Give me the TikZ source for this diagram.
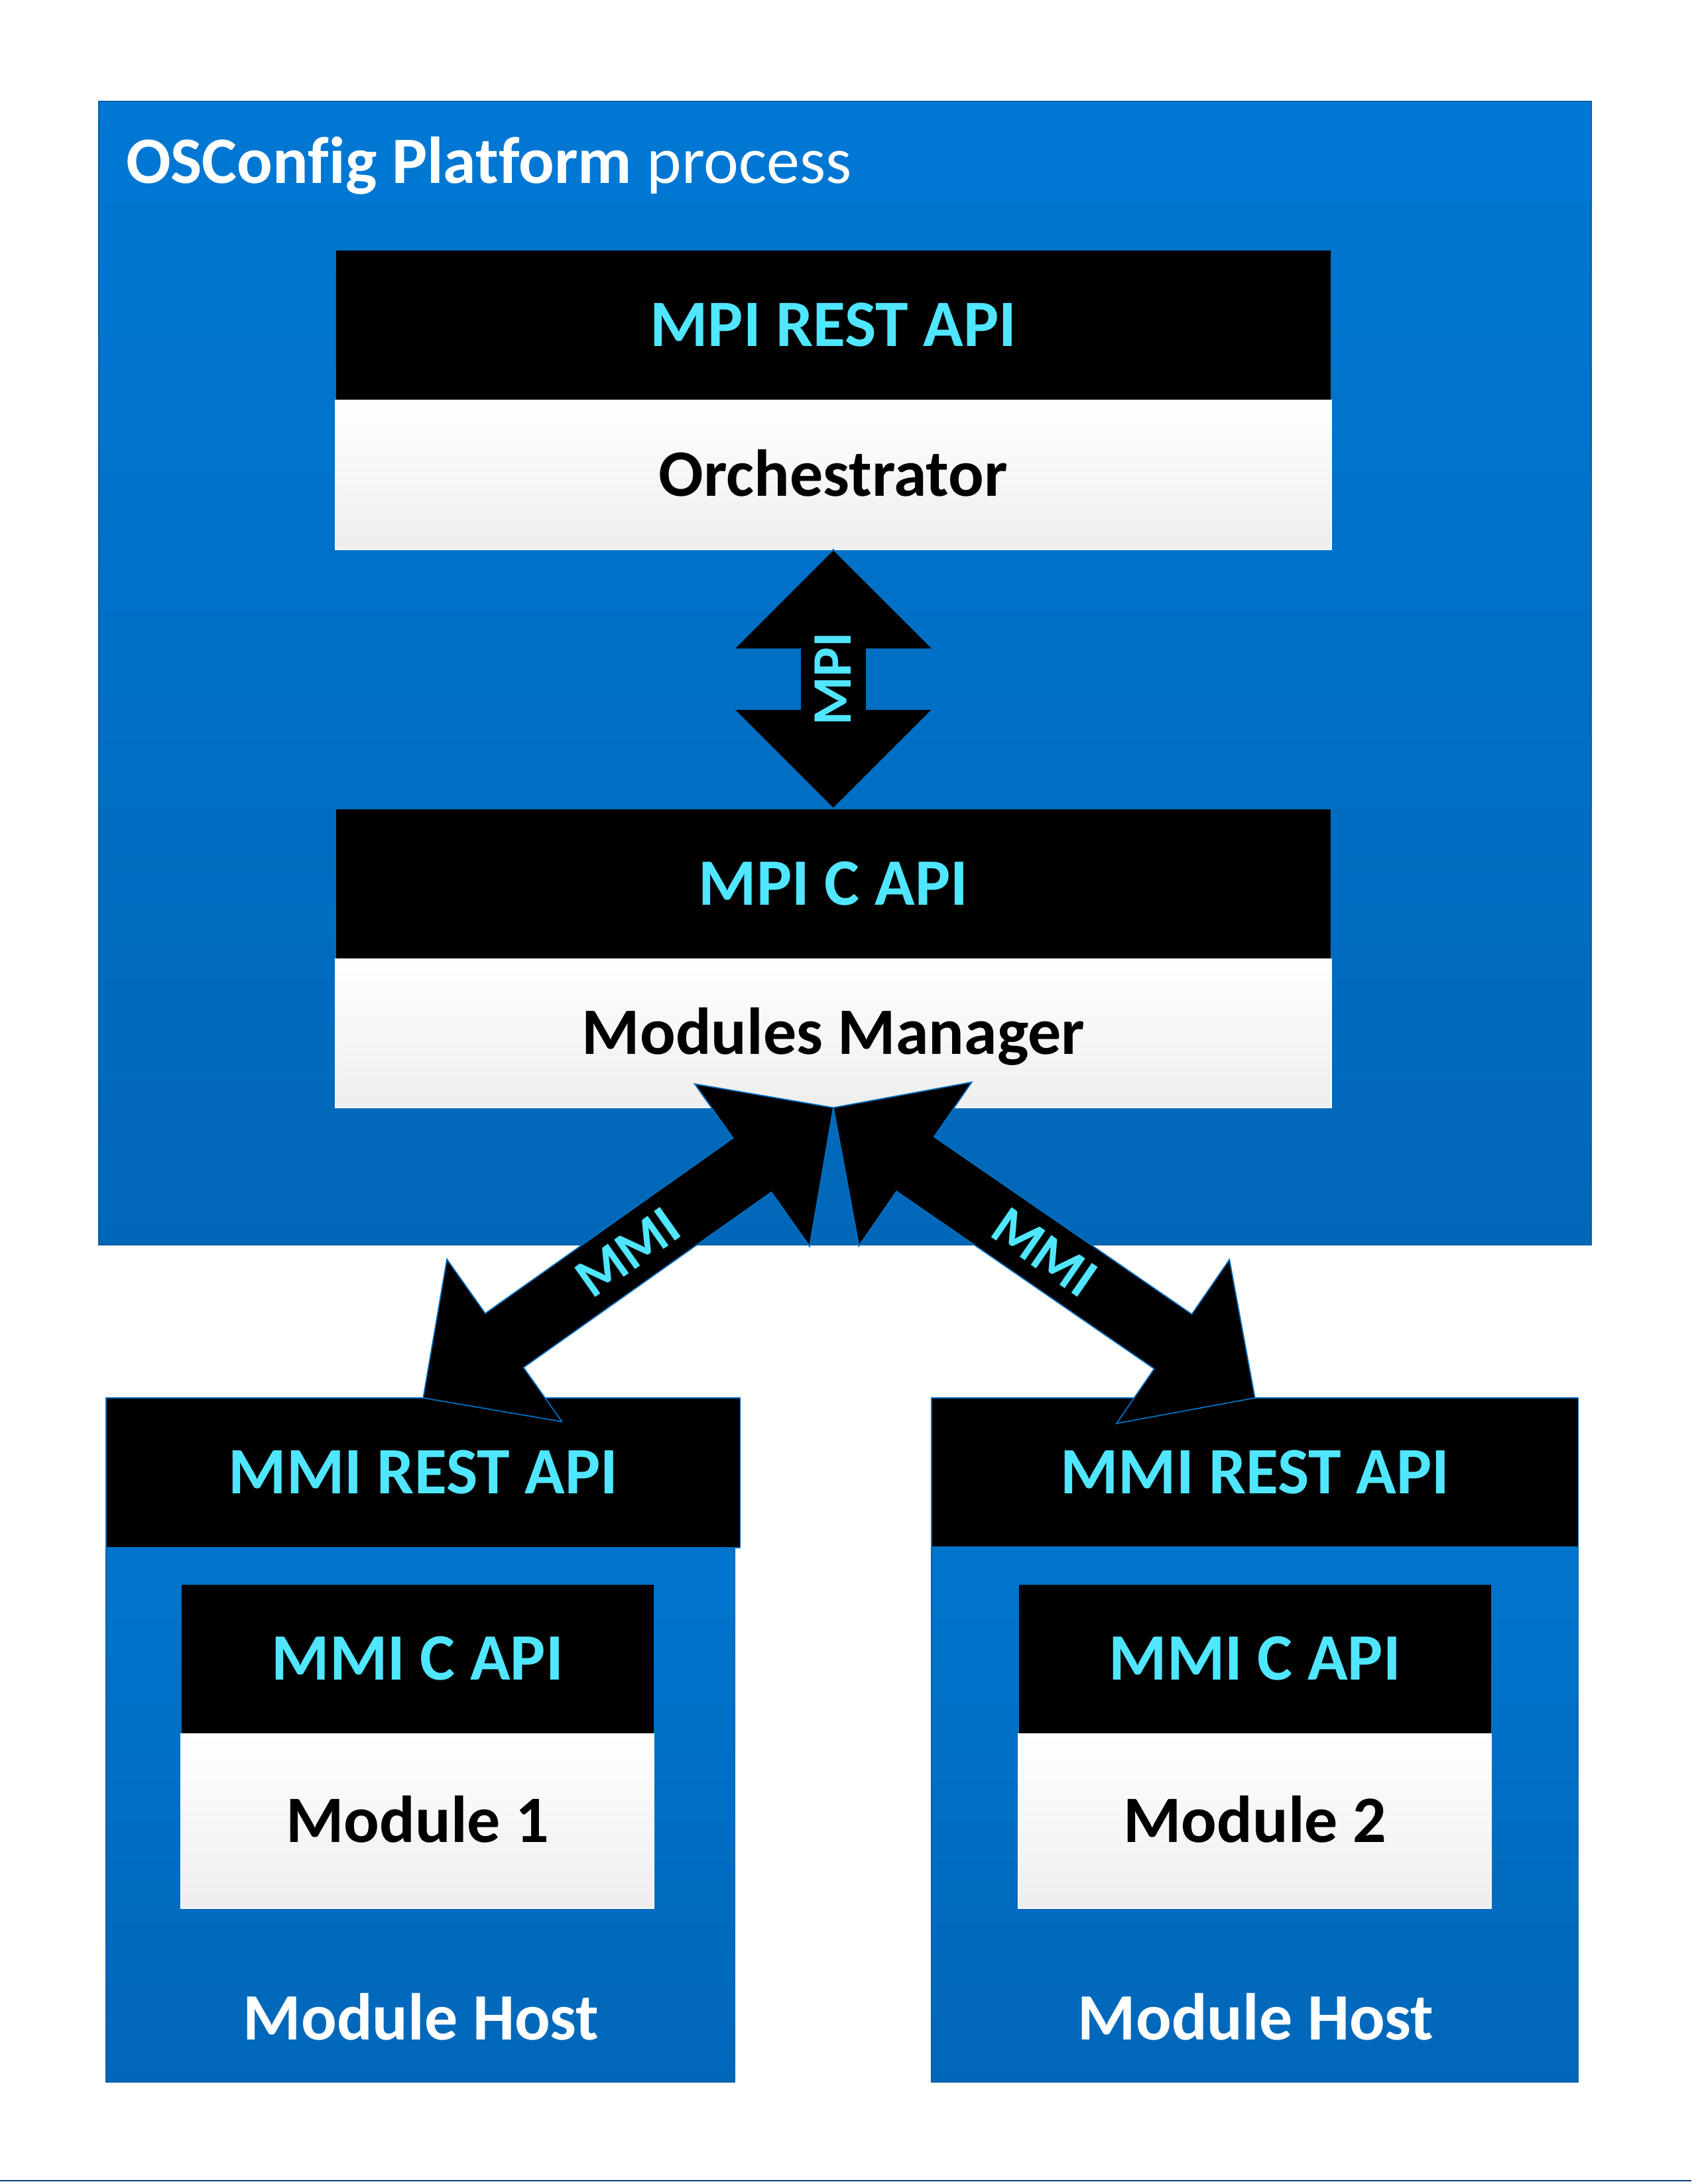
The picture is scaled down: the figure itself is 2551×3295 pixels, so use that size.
\documentclass[tikz,border=0pt]{standalone}
\usepackage{fontspec}
\setmainfont{Carlito}[Ligatures={NoCommon}]
\usetikzlibrary{calc}
\definecolor{blueT}{RGB}{0,120,212}
\definecolor{blueB}{RGB}{0,103,184}
\definecolor{edgeB}{RGB}{0,112,192}
\definecolor{edgeD}{RGB}{0,92,165}
\definecolor{cyanT}{RGB}{80,230,255}
\definecolor{lightB}{RGB}{238,238,238}
\definecolor{navyL}{RGB}{16,60,120}
\newcommand\bigfont{\fontsize{28.45}{34}\selectfont}
\newcommand\lblfont{\fontsize{23.9}{28}\selectfont}
\newcommand{\dblarrow}[2]{%
  \filldraw[blockarrow] (#1)
    -- ($(#1)!2.1213cm!45:(#2)$) -- ($(#1)!1.5811cm!18.435:(#2)$)
    -- ($(#2)!1.5811cm!-18.435:(#1)$) -- ($(#2)!2.1213cm!-45:(#1)$)
    -- (#2)
    -- ($(#2)!2.1213cm!45:(#1)$) -- ($(#2)!1.5811cm!18.435:(#1)$)
    -- ($(#1)!1.5811cm!-18.435:(#2)$) -- ($(#1)!2.1213cm!-45:(#2)$)
    -- cycle;}
\tikzset{
  every node/.style={inner sep=0pt, outer sep=0pt},
  bluebox/.style={top color=blueT, bottom color=blueB, draw=edgeD, line width=0.5pt, anchor=north west},
  hdr/.style={fill=black, draw=edgeB, line width=0.45pt, text=cyanT, font=\bigfont\bfseries,
    anchor=north west, text height=0.632cm, text depth=0pt},
  lightbox/.style={top color=white, bottom color=lightB, draw=white, line width=0.4pt, text=black,
    font=\bigfont\bfseries, anchor=north west, text height=0.632cm, text depth=0pt},
  hostlbl/.style={text=white, font=\bigfont\bfseries, anchor=base},
  blockarrow/.style={fill=black, draw=edgeB, line width=0.5pt, line join=miter},
  arrowlbl/.style={text=cyanT, font=\lblfont\bfseries, text height=0.53cm, text depth=0pt}
}
\begin{document}
\begin{tikzpicture}[x=0.01cm, y=-0.01cm]
\useasboundingbox (0,0) rectangle (2551,3295);
\fill[white] (0,0) rectangle (2551,3295);

% platform process
\node[bluebox, minimum width=22.50cm, minimum height=17.24cm] (outer) at (149,153) {};
\node[text=white, font=\bigfont, anchor=base west] (title) at (190,277) {\textbf{OSConfig Platform} process};

\node[hdr, minimum width=15.01cm, minimum height=2.27cm] (mpirest) at (506,377) {MPI REST API};
\node[lightbox, minimum width=15.01cm, minimum height=2.25cm] (orch) at (506,604) {Orchestrator};
\node[hdr, minimum width=15.01cm, minimum height=2.27cm] (mpic) at (506,1220) {MPI C API};
\node[lightbox, minimum width=15.01cm, minimum height=2.24cm] (mm) at (506,1447) {Modules Manager};

% module hosts
\node[bluebox, minimum width=9.48cm, minimum height=10.30cm] (hostL) at (160,2110) {};
\node[hdr, minimum width=9.56cm, minimum height=2.26cm] (restL) at (160,2109) {MMI REST API};
\node[hdr, minimum width=7.13cm, minimum height=2.26cm] (mmicL) at (273,2390) {MMI C API};
\node[lightbox, minimum width=7.13cm, minimum height=2.63cm] (mod1) at (273,2616) {Module 1};
\node[hostlbl] (hostLlbl) at (635,3077) {Module Host};

\node[bluebox, minimum width=9.75cm, minimum height=10.30cm] (hostR) at (1405,2110) {};
\node[hdr, minimum width=9.75cm, minimum height=2.25cm] (restR) at (1405,2109) {MMI REST API};
\node[hdr, minimum width=7.13cm, minimum height=2.26cm] (mmicR) at (1536,2390) {MMI C API};
\node[lightbox, minimum width=7.13cm, minimum height=2.63cm] (mod2) at (1536,2616) {Module 2};
\node[hostlbl] (hostRlbl) at (1894,3077) {Module Host};

% connectors (block arrows)
\dblarrow{orch.south}{mpic.north}
\path (orch.south) -- node[arrowlbl, rotate=90] (mpilbl) {MPI} (mpic.north);

\dblarrow{mm.south}{restL.north}
\path (mm.south) -- node[arrowlbl, sloped] (mmilblL) {MMI} (restL.north);

\dblarrow{mm.south}{restR.north}
\path (mm.south) -- node[arrowlbl, sloped] (mmilblR) {MMI} (restR.north);

% bottom rule
\draw[navyL, line width=0.6pt] (0,3290) -- (2551,3290);
\end{tikzpicture}
\end{document}
